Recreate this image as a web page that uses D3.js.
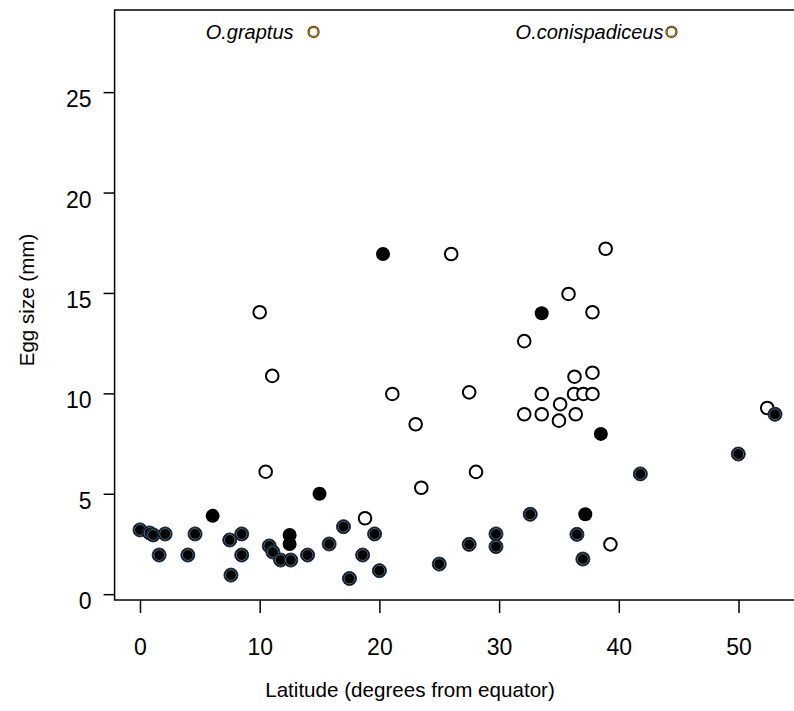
<!DOCTYPE html>
<html>
<head>
<meta charset="utf-8">
<script src="https://cdn.jsdelivr.net/npm/d3@7"></script>
<style>
  body { margin: 0; background: #fff; }
  text { font-family: "Liberation Sans", Arial, sans-serif; fill: #000; }
</style>
</head>
<body>
<div id="chart"></div>
<script>
// latitude (deg from equator) / egg size (mm)
const openLat = [10.0, 11.05, 10.5, 18.8, 21.08, 23.03, 23.5, 26.0, 27.5, 28.07, 32.1, 32.1, 33.56, 33.56, 35.0, 35.1, 35.8, 36.3, 36.26, 36.4, 37.04, 37.8, 37.8, 37.8, 38.9, 39.3, 52.4]
const openEgg = [14.04, 10.87, 6.1, 3.78, 9.97, 8.46, 5.3, 16.94, 10.05, 6.09, 12.6, 8.96, 9.97, 8.96, 8.64, 9.46, 14.95, 10.83, 9.97, 8.96, 9.97, 9.97, 11.03, 14.04, 17.2, 2.48, 9.27]

const ringLat = [0, 0.8, 1.1, 2.1, 4.6, 1.6, 4.0, 7.5, 8.5, 8.5, 7.6, 10.8, 11.1, 11.75, 12.6, 14.0, 15.8, 17.0, 19.6, 18.6, 17.5, 20.0, 25.0, 27.5, 29.74, 29.74, 32.6, 36.5, 37.0, 41.8, 49.98, 53.05]
const ringEgg = [3.2, 3.05, 2.95, 3.0, 3.0, 1.95, 1.95, 2.7, 3.0, 1.95, 0.95, 2.4, 2.1, 1.7, 1.7, 1.95, 2.5, 3.36, 3.0, 1.95, 0.78, 1.17, 1.5, 2.48, 3.0, 2.37, 3.98, 2.98, 1.75, 5.99, 6.98, 8.96]

const solidLat = [6.07, 12.5, 12.5, 15.0, 20.3, 33.56, 38.5, 37.2]
const solidEgg = [3.9, 2.95, 2.5, 5.0, 16.94, 13.99, 7.98, 3.98]

const namedSpecies = ["O.graptus", "O.conispadiceus"]
const namedLat = [14.5, 44.4]
const namedEgg = [28, 28]

const xTicks = [0, 10, 20, 30, 40, 50]
const yTicks = [0, 5, 10, 15, 20, 25]

const W = 794, H = 711
const svg = d3.select("#chart").append("svg")
  .attr("width", W).attr("height", H)

// R-style 4% padding on both axes
const x = d3.scaleLinear().domain([-2.12, 55.12]).range([114.6, 799.8])
const y = d3.scaleLinear().domain([-0.29, 29.09]).range([600, 10])

// box
svg.append("rect")
  .attr("x", x(-2.12)).attr("y", y(29.09))
  .attr("width", x(55.12) - x(-2.12)).attr("height", y(-0.29) - y(29.09))
  .attr("fill", "none").attr("stroke", "#000").attr("stroke-width", 1.5)

// x axis
const xAxis = svg.append("g")
  .attr("transform", `translate(0,${y(-0.29)})`)
  .call(d3.axisBottom(x).tickValues(xTicks).tickSize(13).tickPadding(26).tickFormat(d3.format("d")))
xAxis.select(".domain").remove()
xAxis.selectAll("line").attr("stroke-width", 1.5)
xAxis.selectAll("text").attr("font-size", 23).style("font-family", "Liberation Sans, Arial, sans-serif")

// y axis
const yAxis = svg.append("g")
  .attr("transform", `translate(${x(-2.12)},0)`)
  .call(d3.axisLeft(y).tickValues(yTicks).tickSize(11).tickPadding(12).tickFormat(d3.format("d")))
yAxis.select(".domain").remove()
yAxis.selectAll("line").attr("stroke-width", 1.5)
yAxis.selectAll("text").attr("font-size", 23).attr("dy", 14.5)
  .style("font-family", "Liberation Sans, Arial, sans-serif")

svg.append("text")
  .attr("x", 410).attr("y", 697)
  .attr("text-anchor", "middle").attr("font-size", 20.6)
  .text("Latitude (degrees from equator)")

svg.append("text")
  .attr("transform", "translate(34,300) rotate(-90)")
  .attr("text-anchor", "middle").attr("font-size", 20.6)
  .text("Egg size (mm)")

// open circles
svg.append("g").selectAll("circle")
  .data(d3.range(openLat.length))
  .join("circle")
  .attr("cx", i => x(openLat[i]))
  .attr("cy", i => y(openEgg[i]))
  .attr("r", 6.3)
  .attr("fill", "#fff")
  .attr("stroke", "#000")
  .attr("stroke-width", 2)

// filled, with bluish ring
const ring = svg.append("g").selectAll("g")
  .data(d3.range(ringLat.length))
  .join("g")
  .attr("transform", i => `translate(${x(ringLat[i])},${y(ringEgg[i])})`)
ring.append("circle").attr("r", 7).attr("fill", "#000").attr("stroke", "#1c2f48").attr("stroke-width", 1)
ring.append("circle").attr("r", 5.4).attr("fill", "none").attr("stroke", "#5f7a96").attr("stroke-width", 0.9)

// plain solid
svg.append("g").selectAll("circle")
  .data(d3.range(solidLat.length))
  .join("circle")
  .attr("cx", i => x(solidLat[i]))
  .attr("cy", i => y(solidEgg[i]))
  .attr("r", 7)
  .attr("fill", "#000")

// named species
const named = svg.append("g").selectAll("g")
  .data(d3.range(namedSpecies.length))
  .join("g")
  .attr("transform", i => `translate(${x(namedLat[i])},${y(namedEgg[i])})`)
named.append("circle").attr("r", 5).attr("fill", "#fff").attr("stroke", "#3a2000").attr("stroke-width", 2.2)
named.append("circle").attr("r", 5).attr("fill", "none").attr("stroke", "#e08a1e").attr("stroke-width", 1)
named.append("text")
  .attr("x", i => i === 0 ? -20 : -8).attr("y", 0).attr("dy", "0.35em")
  .attr("text-anchor", "end").attr("font-size", 20).attr("font-style", "italic")
  .text(i => namedSpecies[i])
</script>
</body>
</html>
